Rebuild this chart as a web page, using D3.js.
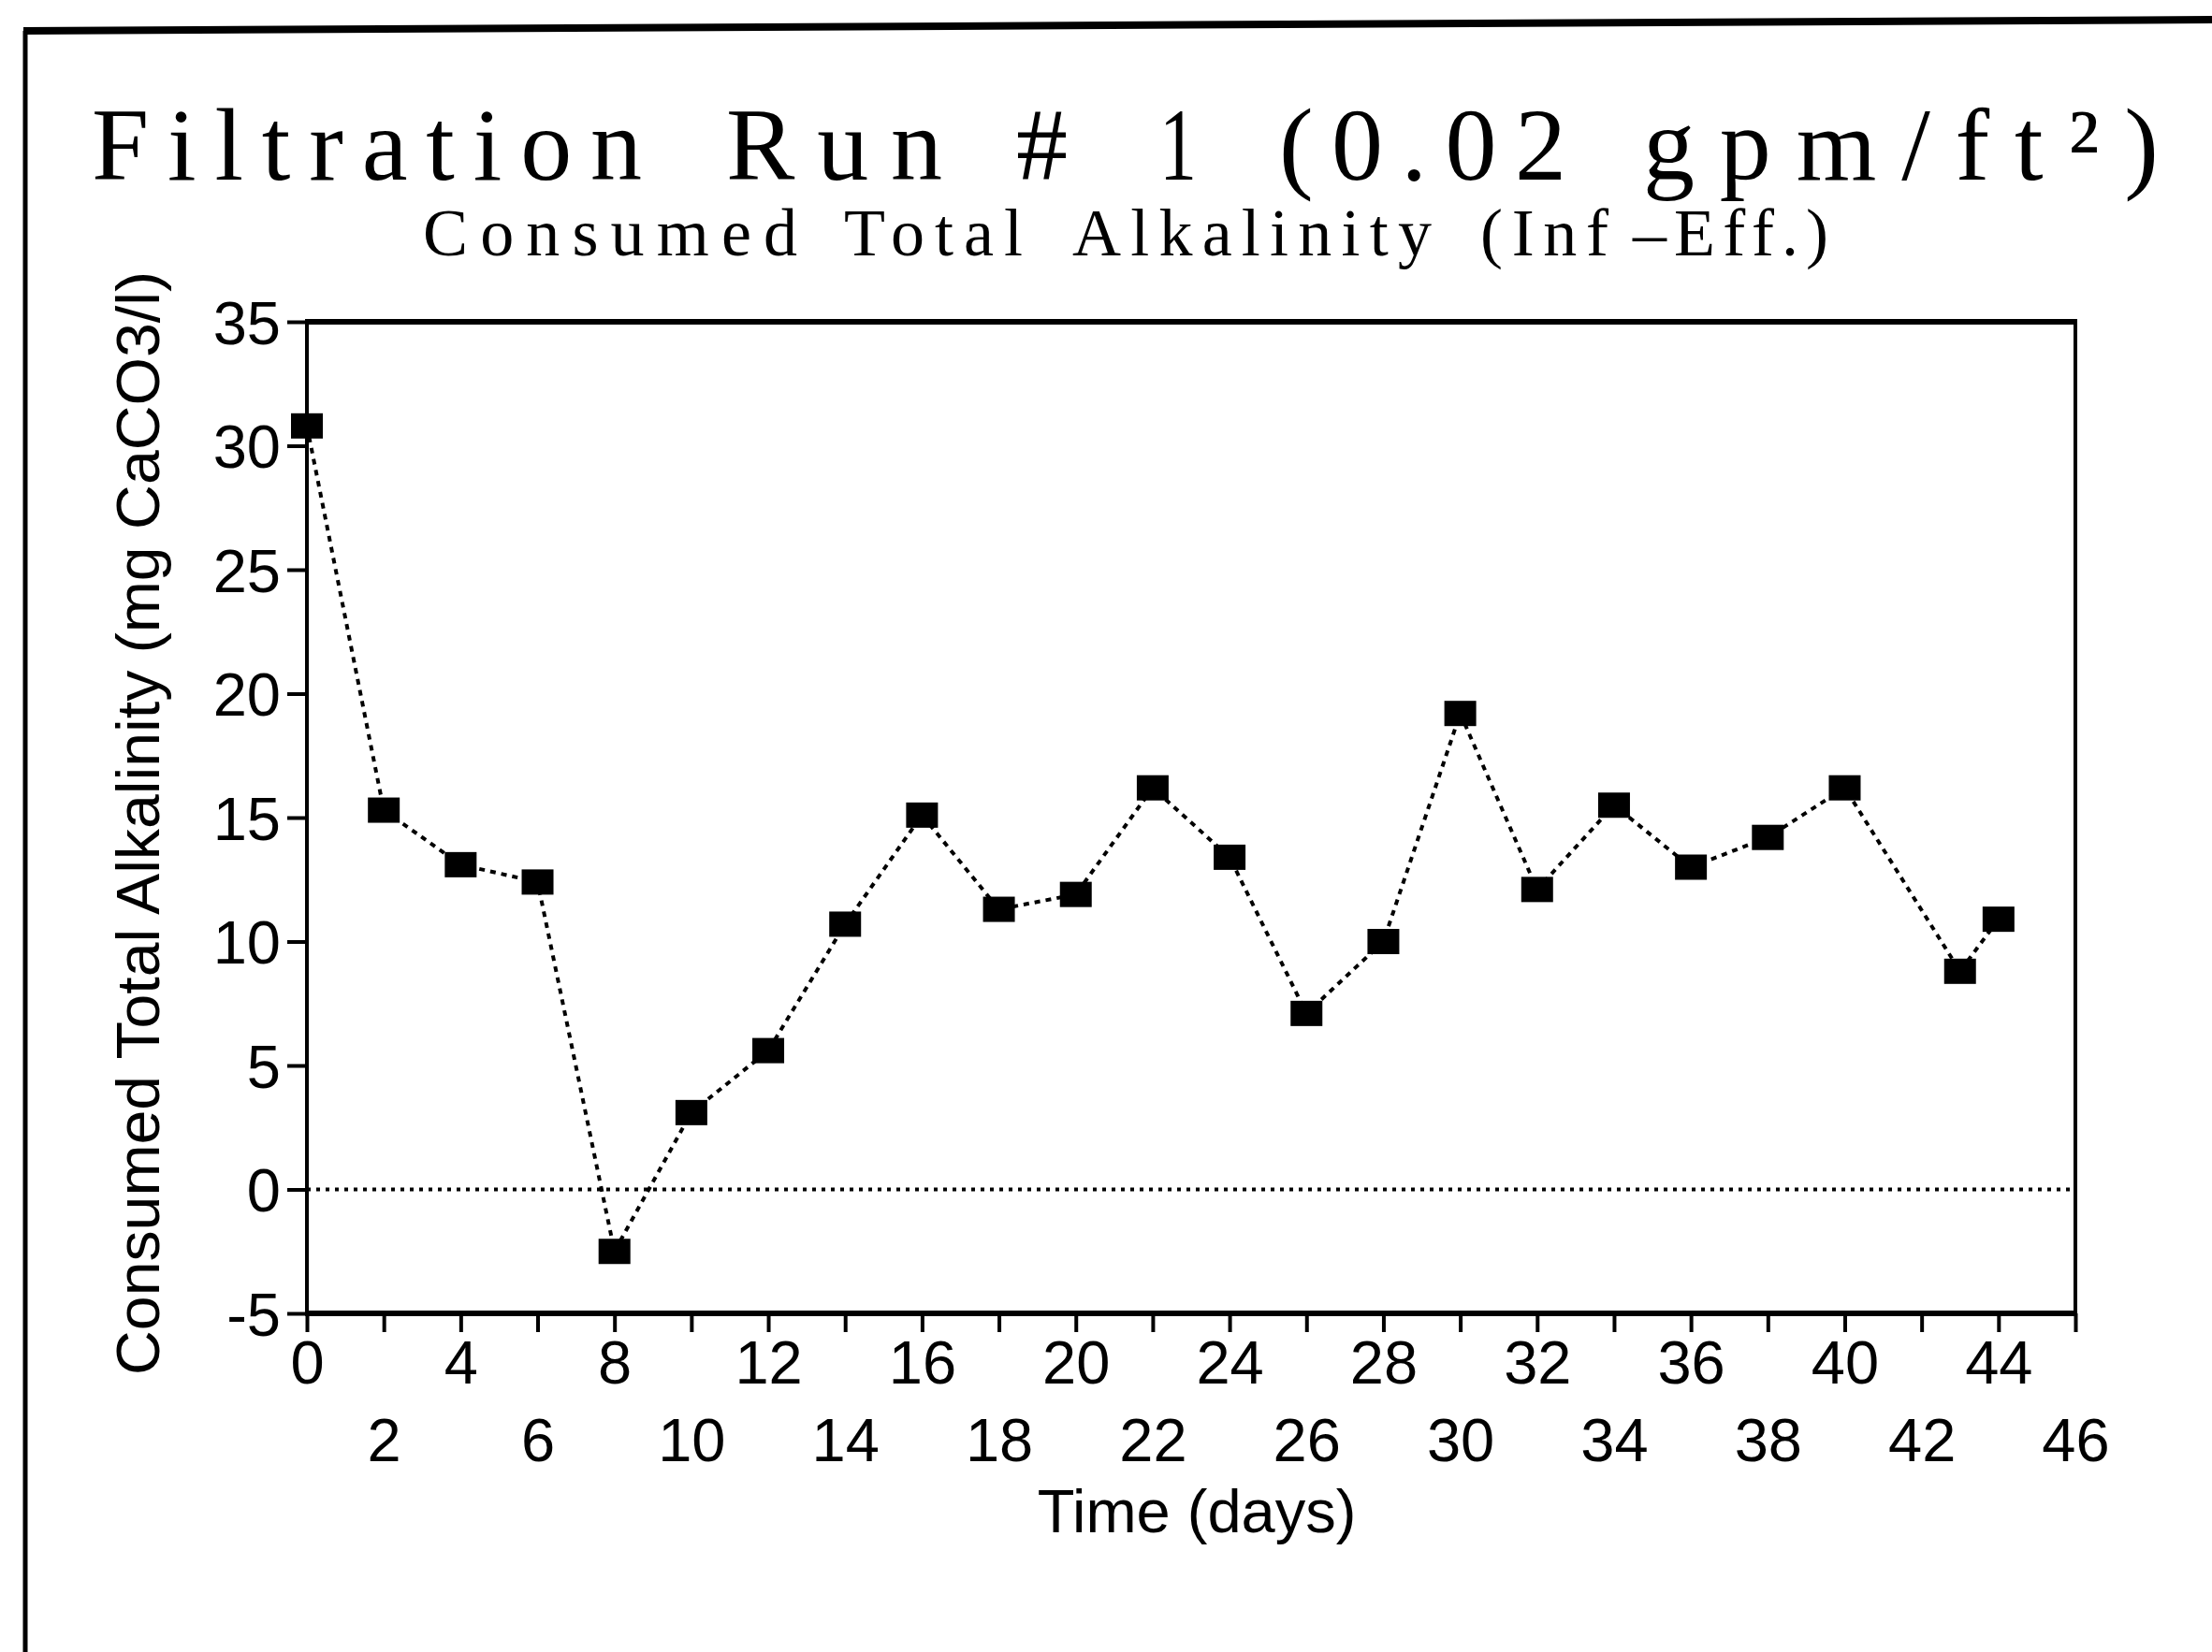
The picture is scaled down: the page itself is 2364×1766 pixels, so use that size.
<!DOCTYPE html>
<html><head><meta charset="utf-8">
<script src="https://cdn.jsdelivr.net/npm/d3@7"></script>
<style>body{margin:0;background:#fff;} svg{display:block}</style>
</head><body>
<script>
// ---- data ----
const days   = [0, 2, 4, 6, 8, 10, 12, 14, 16, 18, 20, 22, 24, 26, 28, 30, 32, 34, 36, 38, 40, 43, 44];
const values = [30.8, 15.3, 13.1, 12.4, -2.5, 3.1, 5.6, 10.7, 15.1, 11.3, 11.9, 16.2, 13.4, 7.1, 10.0, 19.2, 12.1, 15.5, 13.0, 14.2, 16.2, 8.8, 10.9];
const yTicks = [35, 30, 25, 20, 15, 10, 5, 0, -5];
const xTicks = [0, 2, 4, 6, 8, 10, 12, 14, 16, 18, 20, 22, 24, 26, 28, 30, 32, 34, 36, 38, 40, 42, 44, 46];
const titleWords = ["Filtration", "Run", "#", "1", "(0.02", "gpm/ft\u00B2)"];
const subtitleWords = ["Consumed", "Total", "Alkalinity", "(Inf", "\u2013Eff.)"];
const xLabel = "Time (days)";
const yLabel = "Consumed Total Alkalinity (mg CaCO3/l)";

// ---- layout ----
const W = 2364, H = 1766;
const svg = d3.select("body").append("svg").attr("width", W).attr("height", H);
svg.append("rect").attr("width", W).attr("height", H).attr("fill", "#fff");

const x = d3.scaleLinear().domain([0, 46]).range([328, 2218]);
const y = d3.scaleLinear().domain([-5, 35]).range([1404, 344]);

const sans = "'Liberation Sans', Arial, Helvetica, sans-serif";
const serif = "'Liberation Serif', 'Times New Roman', serif";

// outer page frame (scanned border)
svg.append("path")
  .attr("d", "M27,1766 L27,33")
  .attr("fill", "none").attr("stroke", "#000").attr("stroke-width", 5);
svg.append("path")
  .attr("d", "M25,33 L2364,21")
  .attr("fill", "none").attr("stroke", "#000").attr("stroke-width", 8);

// titles: word extents [start, end] in px
const titleSpans = [[98, 686], [776, 1007], [1086, 1141], [1239, 1279], [1367, 1674], [1756, 2307]];
const subSpans = [[452, 852], [902, 1093], [1146, 1530], [1582, 1719], [1745, 1954]];

function spacedText(words, spans, baseline, size) {
  const t = svg.append("text").attr("y", baseline)
    .style("font-family", serif).style("font-size", size + "px").attr("fill", "#000");
  words.forEach((w, i) => {
    if (i > 0) t.append("tspan").text(" ");
    t.append("tspan").text(w)
      .attr("x", spans[i][0])
      .attr("textLength", spans[i][1] - spans[i][0])
      .attr("lengthAdjust", w.length > 1 ? "spacing" : "spacingAndGlyphs");
  });
  return t;
}
spacedText(titleWords, titleSpans, 192, 110);
spacedText(subtitleWords, subSpans, 273, 72);

// y axis
const gy = svg.append("g").attr("transform", `translate(${x(0)},0)`)
  .call(d3.axisLeft(y).tickValues(yTicks).tickSize(21).tickSizeOuter(0).tickPadding(7).tickFormat(d => String(d)));
gy.select(".domain").remove();
gy.selectAll(".tick line").attr("stroke", "#000").attr("stroke-width", 4);
gy.selectAll(".tick text").style("font-family", sans).style("font-size", "65px").attr("fill", "#000").attr("dy", "0.36em");

// x axis
const gx = svg.append("g").attr("transform", `translate(0,${y(-5)})`)
  .call(d3.axisBottom(x).tickValues(xTicks).tickSize(20).tickSizeOuter(0).tickFormat(d => String(d)));
gx.select(".domain").remove();
gx.selectAll(".tick line").attr("stroke", "#000").attr("stroke-width", 4);
gx.selectAll(".tick text")
  .style("font-family", sans).style("font-size", "65px").attr("fill", "#000")
  .attr("dy", 0)
  .attr("y", d => (d % 4 === 0) ? 75 : 158);

// plot frame
const fx0 = x(0), fx1 = x(46), fy0 = y(35), fy1 = y(-5);
svg.append("line").attr("x1", fx0 - 2).attr("x2", fx1 + 2).attr("y1", fy0).attr("y2", fy0).attr("stroke", "#000").attr("stroke-width", 6);
svg.append("line").attr("x1", fx0 - 2).attr("x2", fx1 + 2).attr("y1", fy1).attr("y2", fy1).attr("stroke", "#000").attr("stroke-width", 6);
svg.append("line").attr("x1", fx0).attr("x2", fx0).attr("y1", fy0).attr("y2", fy1).attr("stroke", "#000").attr("stroke-width", 4);
svg.append("line").attr("x1", fx1).attr("x2", fx1).attr("y1", fy0).attr("y2", fy1).attr("stroke", "#000").attr("stroke-width", 4);

// zero line
svg.append("line").attr("x1", x(0)).attr("x2", x(46)).attr("y1", y(0)).attr("y2", y(0))
  .attr("stroke", "#000").attr("stroke-width", 4).attr("stroke-dasharray", "4,6");

// data line
const pts = days.map((d, i) => [d, values[i]]);
svg.append("path").datum(pts)
  .attr("d", d3.line().x(d => x(d[0])).y(d => y(d[1])))
  .attr("fill", "none").attr("stroke", "#000").attr("stroke-width", 4).attr("stroke-dasharray", "6,6");

// markers
svg.selectAll("rect.m").data(pts).enter().append("rect").attr("class", "m")
  .attr("x", d => x(d[0]) - 17).attr("y", d => y(d[1]) - 13.5)
  .attr("width", 34).attr("height", 27).attr("fill", "#000");

// axis titles
svg.append("text").text(xLabel)
  .attr("x", 1279).attr("y", 1638).attr("text-anchor", "middle")
  .style("font-family", sans).style("font-size", "65px").attr("fill", "#000");
svg.append("text").text(yLabel)
  .attr("transform", "translate(170,880) rotate(-90)")
  .attr("text-anchor", "middle")
  .attr("textLength", 1180).attr("lengthAdjust", "spacingAndGlyphs")
  .style("font-family", sans).style("font-size", "65px").attr("fill", "#000");
</script>
</body></html>
